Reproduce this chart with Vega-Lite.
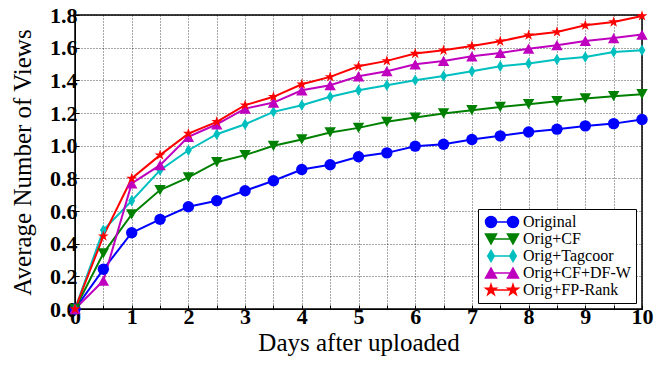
{
  "$schema": "https://vega.github.io/schema/vega-lite/v6.json",
  "width": 567,
  "height": 294,
  "autosize": {"type": "none"},
  "padding": {"left": 75, "top": 15, "right": 28, "bottom": 57},
  "background": "white",
  "config": {
    "view": {"stroke": "black", "strokeWidth": 1.5}
  },
  "data": {
    "values": [
      {"day": 0, "views": 0, "series": "Original"},
      {"day": 0.5, "views": 0.243, "series": "Original"},
      {"day": 1, "views": 0.467, "series": "Original"},
      {"day": 1.5, "views": 0.549, "series": "Original"},
      {"day": 2, "views": 0.626, "series": "Original"},
      {"day": 2.5, "views": 0.663, "series": "Original"},
      {"day": 3, "views": 0.724, "series": "Original"},
      {"day": 3.5, "views": 0.785, "series": "Original"},
      {"day": 4, "views": 0.854, "series": "Original"},
      {"day": 4.5, "views": 0.883, "series": "Original"},
      {"day": 5, "views": 0.932, "series": "Original"},
      {"day": 5.5, "views": 0.956, "series": "Original"},
      {"day": 6, "views": 0.997, "series": "Original"},
      {"day": 6.5, "views": 1.009, "series": "Original"},
      {"day": 7, "views": 1.038, "series": "Original"},
      {"day": 7.5, "views": 1.06, "series": "Original"},
      {"day": 8, "views": 1.084, "series": "Original"},
      {"day": 8.5, "views": 1.101, "series": "Original"},
      {"day": 9, "views": 1.121, "series": "Original"},
      {"day": 9.5, "views": 1.135, "series": "Original"},
      {"day": 10, "views": 1.16, "series": "Original"},
      {"day": 0, "views": 0, "series": "Orig+CF"},
      {"day": 0.5, "views": 0.341, "series": "Orig+CF"},
      {"day": 1, "views": 0.579, "series": "Orig+CF"},
      {"day": 1.5, "views": 0.728, "series": "Orig+CF"},
      {"day": 2, "views": 0.806, "series": "Orig+CF"},
      {"day": 2.5, "views": 0.899, "series": "Orig+CF"},
      {"day": 3, "views": 0.942, "series": "Orig+CF"},
      {"day": 3.5, "views": 0.999, "series": "Orig+CF"},
      {"day": 4, "views": 1.038, "series": "Orig+CF"},
      {"day": 4.5, "views": 1.081, "series": "Orig+CF"},
      {"day": 5, "views": 1.109, "series": "Orig+CF"},
      {"day": 5.5, "views": 1.146, "series": "Orig+CF"},
      {"day": 6, "views": 1.172, "series": "Orig+CF"},
      {"day": 6.5, "views": 1.197, "series": "Orig+CF"},
      {"day": 7, "views": 1.217, "series": "Orig+CF"},
      {"day": 7.5, "views": 1.237, "series": "Orig+CF"},
      {"day": 8, "views": 1.254, "series": "Orig+CF"},
      {"day": 8.5, "views": 1.272, "series": "Orig+CF"},
      {"day": 9, "views": 1.289, "series": "Orig+CF"},
      {"day": 9.5, "views": 1.303, "series": "Orig+CF"},
      {"day": 10, "views": 1.315, "series": "Orig+CF"},
      {"day": 0, "views": 0, "series": "Orig+Tagcoor"},
      {"day": 0.5, "views": 0.483, "series": "Orig+Tagcoor"},
      {"day": 1, "views": 0.663, "series": "Orig+Tagcoor"},
      {"day": 1.5, "views": 0.85, "series": "Orig+Tagcoor"},
      {"day": 2, "views": 0.972, "series": "Orig+Tagcoor"},
      {"day": 2.5, "views": 1.07, "series": "Orig+Tagcoor"},
      {"day": 3, "views": 1.131, "series": "Orig+Tagcoor"},
      {"day": 3.5, "views": 1.207, "series": "Orig+Tagcoor"},
      {"day": 4, "views": 1.248, "series": "Orig+Tagcoor"},
      {"day": 4.5, "views": 1.299, "series": "Orig+Tagcoor"},
      {"day": 5, "views": 1.339, "series": "Orig+Tagcoor"},
      {"day": 5.5, "views": 1.37, "series": "Orig+Tagcoor"},
      {"day": 6, "views": 1.401, "series": "Orig+Tagcoor"},
      {"day": 6.5, "views": 1.427, "series": "Orig+Tagcoor"},
      {"day": 7, "views": 1.456, "series": "Orig+Tagcoor"},
      {"day": 7.5, "views": 1.486, "series": "Orig+Tagcoor"},
      {"day": 8, "views": 1.503, "series": "Orig+Tagcoor"},
      {"day": 8.5, "views": 1.527, "series": "Orig+Tagcoor"},
      {"day": 9, "views": 1.543, "series": "Orig+Tagcoor"},
      {"day": 9.5, "views": 1.574, "series": "Orig+Tagcoor"},
      {"day": 10, "views": 1.584, "series": "Orig+Tagcoor"},
      {"day": 0, "views": 0, "series": "Orig+CF+DF-W"},
      {"day": 0.5, "views": 0.173, "series": "Orig+CF+DF-W"},
      {"day": 1, "views": 0.769, "series": "Orig+CF+DF-W"},
      {"day": 1.5, "views": 0.881, "series": "Orig+CF+DF-W"},
      {"day": 2, "views": 1.054, "series": "Orig+CF+DF-W"},
      {"day": 2.5, "views": 1.131, "series": "Orig+CF+DF-W"},
      {"day": 3, "views": 1.227, "series": "Orig+CF+DF-W"},
      {"day": 3.5, "views": 1.264, "series": "Orig+CF+DF-W"},
      {"day": 4, "views": 1.339, "series": "Orig+CF+DF-W"},
      {"day": 4.5, "views": 1.37, "series": "Orig+CF+DF-W"},
      {"day": 5, "views": 1.425, "series": "Orig+CF+DF-W"},
      {"day": 5.5, "views": 1.456, "series": "Orig+CF+DF-W"},
      {"day": 6, "views": 1.498, "series": "Orig+CF+DF-W"},
      {"day": 6.5, "views": 1.519, "series": "Orig+CF+DF-W"},
      {"day": 7, "views": 1.547, "series": "Orig+CF+DF-W"},
      {"day": 7.5, "views": 1.568, "series": "Orig+CF+DF-W"},
      {"day": 8, "views": 1.594, "series": "Orig+CF+DF-W"},
      {"day": 8.5, "views": 1.615, "series": "Orig+CF+DF-W"},
      {"day": 9, "views": 1.641, "series": "Orig+CF+DF-W"},
      {"day": 9.5, "views": 1.659, "series": "Orig+CF+DF-W"},
      {"day": 10, "views": 1.68, "series": "Orig+CF+DF-W"},
      {"day": 0, "views": 0, "series": "Orig+FP-Rank"},
      {"day": 0.5, "views": 0.446, "series": "Orig+FP-Rank"},
      {"day": 1, "views": 0.799, "series": "Orig+FP-Rank"},
      {"day": 1.5, "views": 0.942, "series": "Orig+FP-Rank"},
      {"day": 2, "views": 1.074, "series": "Orig+FP-Rank"},
      {"day": 2.5, "views": 1.146, "series": "Orig+FP-Rank"},
      {"day": 3, "views": 1.248, "series": "Orig+FP-Rank"},
      {"day": 3.5, "views": 1.299, "series": "Orig+FP-Rank"},
      {"day": 4, "views": 1.376, "series": "Orig+FP-Rank"},
      {"day": 4.5, "views": 1.421, "series": "Orig+FP-Rank"},
      {"day": 5, "views": 1.486, "series": "Orig+FP-Rank"},
      {"day": 5.5, "views": 1.519, "series": "Orig+FP-Rank"},
      {"day": 6, "views": 1.564, "series": "Orig+FP-Rank"},
      {"day": 6.5, "views": 1.584, "series": "Orig+FP-Rank"},
      {"day": 7, "views": 1.61, "series": "Orig+FP-Rank"},
      {"day": 7.5, "views": 1.639, "series": "Orig+FP-Rank"},
      {"day": 8, "views": 1.676, "series": "Orig+FP-Rank"},
      {"day": 8.5, "views": 1.696, "series": "Orig+FP-Rank"},
      {"day": 9, "views": 1.737, "series": "Orig+FP-Rank"},
      {"day": 9.5, "views": 1.757, "series": "Orig+FP-Rank"},
      {"day": 10, "views": 1.794, "series": "Orig+FP-Rank"}
    ]
  },
  "encoding": {
    "x": {
      "field": "day", "type": "quantitative",
      "scale": {"domain": [0, 10], "nice": false, "zero": false},
      "axis": {
        "title": "Days after uploaded",
        "values": [0,0.5,1,1.5,2,2.5,3,3.5,4,4.5,5,5.5,6,6.5,7,7.5,8,8.5,9,9.5,10],
        "labelExpr": "datum.value % 1 === 0 ? format(datum.value, 'd') : ''",
        "labelFont": "Liberation Serif", "labelFontSize": 22, "labelFontWeight": "bold", "labelColor": "black",
        "titleFont": "Liberation Serif", "titleFontSize": 25, "titleFontWeight": "normal", "titleColor": "black",
        "titlePadding": 3, "labelPadding": 1,
        "tickSize": -4, "tickColor": "black", "domainColor": "black",
        "grid": true, "gridColor": "black", "gridDash": [1, 2], "gridOpacity": 0.7,
        "labelFlush": false
      }
    },
    "y": {
      "field": "views", "type": "quantitative",
      "scale": {"domain": [0, 1.8], "nice": false},
      "axis": {
        "title": "Average Number of Views",
        "values": [0,0.2,0.4,0.6,0.8,1.0,1.2,1.4,1.6,1.8],
        "format": ".1f",
        "labelFont": "Liberation Serif", "labelFontSize": 22, "labelFontWeight": "bold", "labelColor": "black",
        "titleFont": "Liberation Serif", "titleFontSize": 25, "titleFontWeight": "normal", "titleColor": "black",
        "titlePadding": 14, "labelPadding": 2,
        "tickSize": -4, "tickColor": "black", "domainColor": "black",
        "grid": true, "gridColor": "black", "gridDash": [1, 2], "gridOpacity": 0.7,
        "labelFlush": false
      }
    },
    "color": {
      "field": "series", "type": "nominal",
      "scale": {
        "domain": ["Original", "Orig+CF", "Orig+Tagcoor", "Orig+CF+DF-W", "Orig+FP-Rank"],
        "range": ["#0000FF", "#008000", "#00BFBF", "#BF00BF", "#FF0000"]
      },
      "legend": {
        "title": null,
        "orient": "none", "legendX": 403, "legendY": 194,
        "labelFont": "Liberation Serif", "labelFontSize": 16, "labelColor": "black",
        "symbolSize": 121, "symbolStrokeWidth": 1.5, "symbolOpacity": 1,
        "fillColor": "white", "strokeColor": "black", "padding": 5,
        "rowPadding": 0, "labelOffset": 24,
        "encode": {
          "symbols": {
            "update": {
              "shape": {"signal": "datum.value === 'Original' ? 'M-1,0A1,1,0,1,1,1,0A1,1,0,1,1,-1,0ZM3,0A1,1,0,1,1,5,0A1,1,0,1,1,3,0ZM0,0L4,0' : datum.value === 'Orig+CF' ? 'M-1,-0.9L1,-0.9L0,0.9ZM3,-0.9L5,-0.9L4,0.9ZM0,0L4,0' : datum.value === 'Orig+Tagcoor' ? 'M0,-1L0.6,0L0,1L-0.6,0ZM4,-1L4.6,0L4,1L3.4,0ZM0,0L4,0' : datum.value === 'Orig+CF+DF-W' ? 'M0,-0.9L1,0.9L-1,0.9ZM4,-0.9L5,0.9L3,0.9ZM0,0L4,0' : 'M0,-1L0.2245,-0.309L0.951,-0.309L0.363,0.118L0.588,0.809L0,0.382L-0.588,0.809L-0.363,0.118L-0.951,-0.309L-0.2245,-0.309ZM4,-1L4.2245,-0.309L4.951,-0.309L4.363,0.118L4.588,0.809L4,0.382L3.412,0.809L3.637,0.118L3.049,-0.309L3.7755,-0.309ZM0,0L4,0'"},
              "stroke": {"scale": "color", "field": "value"},
              "fill": {"scale": "color", "field": "value"},
              "strokeWidth": {"value": 1.5}
            }
          }
        }
      }
    }
  },
  "layer": [
    {
      "mark": {"type": "line", "strokeWidth": 2},
      "encoding": {"order": {"field": "day"}}
    },
    {
      "transform": [{"filter": {"field": "series", "equal": "Original"}}],
      "mark": {"type": "point", "filled": true, "size": 130, "opacity": 1, "shape": "circle"}
    },
    {
      "transform": [{"filter": {"field": "series", "equal": "Orig+CF"}}],
      "mark": {"type": "point", "filled": true, "size": 130, "opacity": 1, "shape": "M-1,-0.9L1,-0.9L0,0.9Z"}
    },
    {
      "transform": [{"filter": {"field": "series", "equal": "Orig+Tagcoor"}}],
      "mark": {"type": "point", "filled": true, "size": 130, "opacity": 1, "shape": "M0,-1L0.6,0L0,1L-0.6,0Z"}
    },
    {
      "transform": [{"filter": {"field": "series", "equal": "Orig+CF+DF-W"}}],
      "mark": {"type": "point", "filled": true, "size": 130, "opacity": 1, "shape": "M0,-0.9L1,0.9L-1,0.9Z"}
    },
    {
      "transform": [{"filter": {"field": "series", "equal": "Orig+FP-Rank"}}],
      "mark": {"type": "point", "filled": true, "size": 130, "opacity": 1, "shape": "M0,-1L0.2245,-0.309L0.951,-0.309L0.363,0.118L0.588,0.809L0,0.382L-0.588,0.809L-0.363,0.118L-0.951,-0.309L-0.2245,-0.309Z"}
    }
  ]
}
